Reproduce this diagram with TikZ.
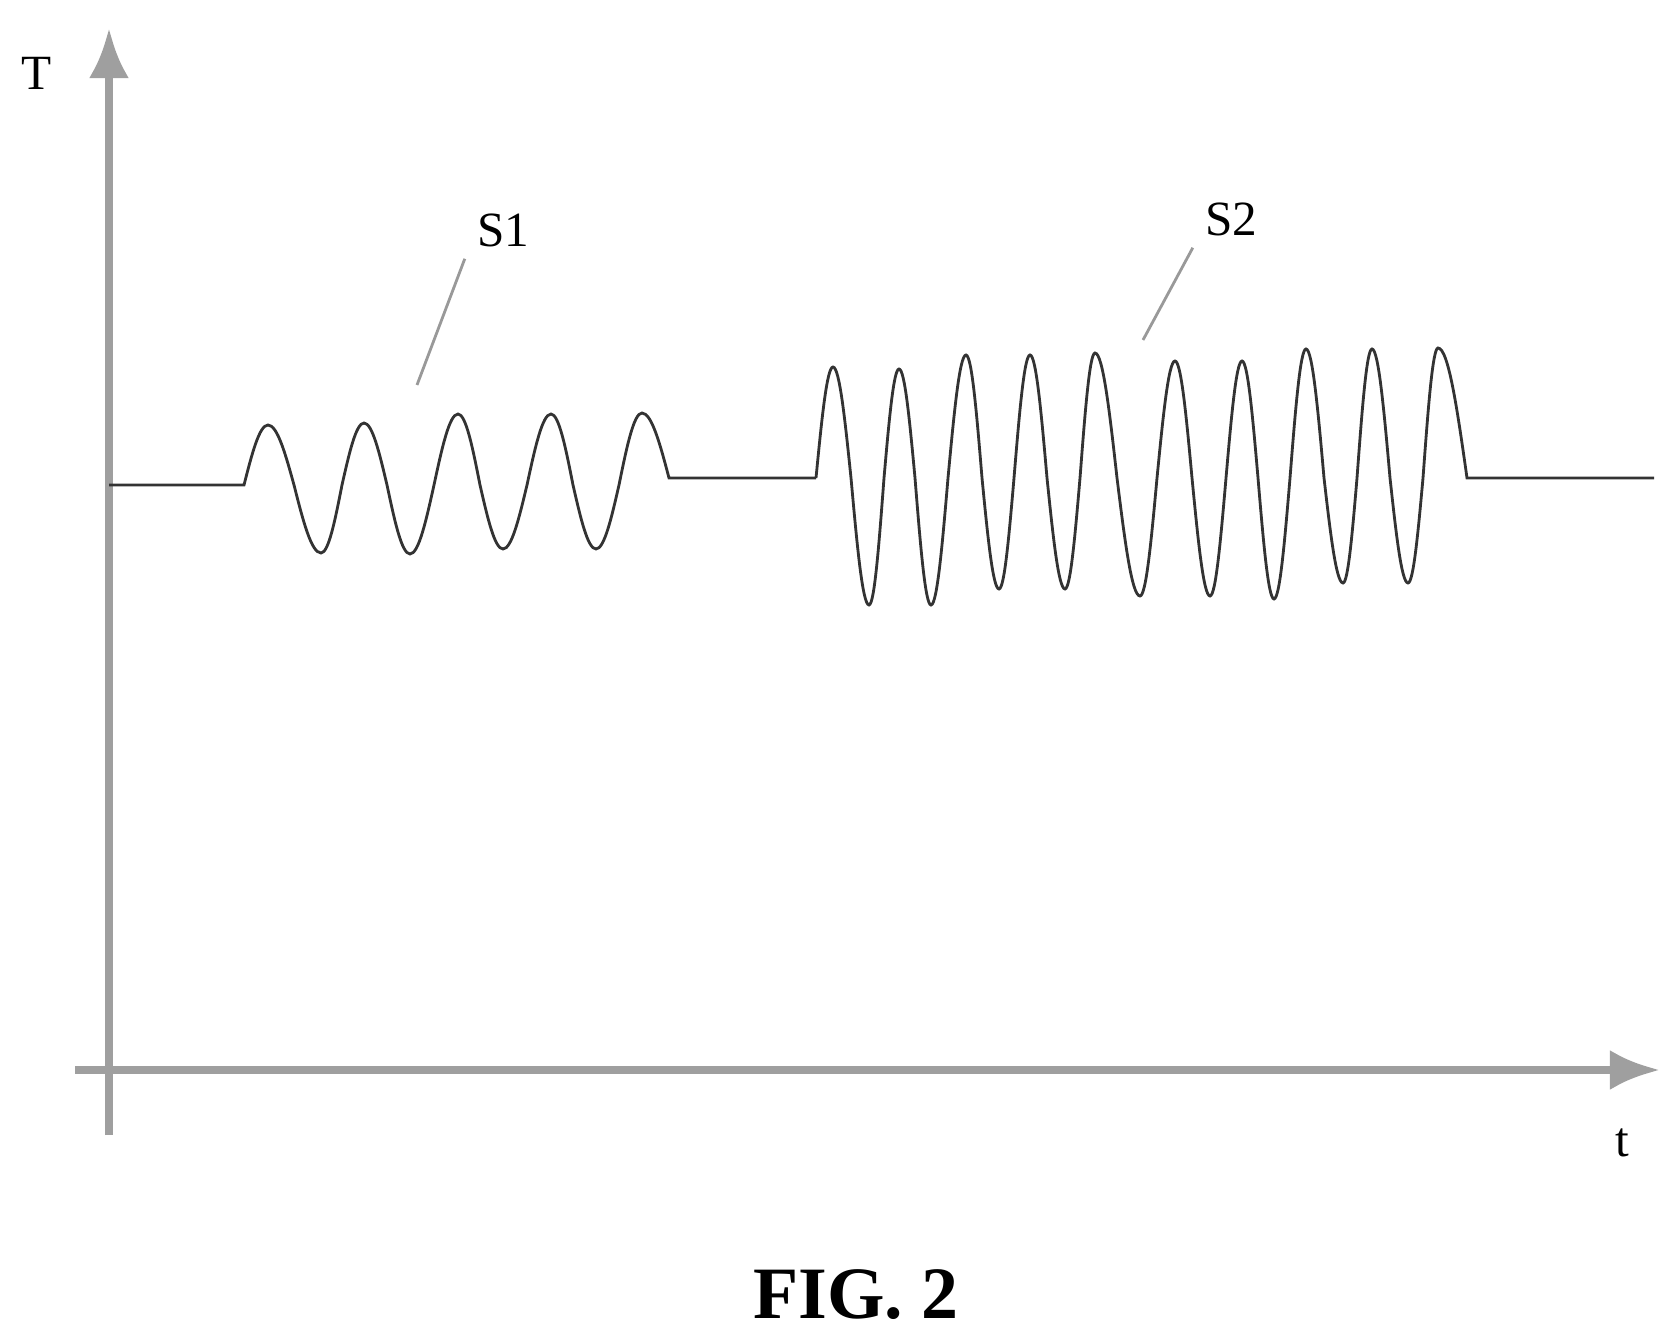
\documentclass[tikz,border=0pt]{standalone}
\usepackage{fontspec}
\setmainfont{Liberation Serif}
\usepackage{tikz}
\usetikzlibrary{arrows.meta}

\begin{document}
\begin{tikzpicture}[
    x=0.01cm, y=-0.01cm,
    axis/.style = {draw=gray!75, line width=2.4pt, -{Latex[length=5mm, width=4mm]}},
    wave/.style = {draw=black!80, line width=0.8pt},
    leader/.style = {draw=gray!80, line width=0.8pt},
    lbl/.style = {font=\fontsize{14}{16}\selectfont, inner sep=1pt}
  ]
  \useasboundingbox (0,0) rectangle (1670,1331);

  % axes
  \coordinate (ybot) at (109,1135);
  \coordinate (ytop) at (109,28);
  \coordinate (xleft) at (75,1070);
  \coordinate (xright) at (1660,1070);
  \draw[axis] (ybot) -- (ytop);
  \draw[axis] (xleft) -- (xright);
  \node[lbl] (Tlab) at (37,73) {T};
  \node[lbl] (tlab) at (1622,1143) {t};

  % signal S1
  \draw[wave] (109,485) -- (244,485) sin (268,425)
    cos (294,485) sin (321,553) cos (342,485) sin (364,423)
    cos (387,485) sin (410,554) cos (434,485) sin (458,414)
    cos (480,485) sin (503,549) cos (527,485) sin (551,414)
    cos (573,485) sin (596,549) cos (619,485) sin (642,413)
    cos (669,478) -- (816,478);

  % signal S2
  \draw[wave] (816,478) sin (833,367)
    cos (851,478) sin (869,605) cos (884,478) sin (899,369)
    cos (915,478) sin (931,605) cos (948,478) sin (966,355)
    cos (982,478) sin (999,589) cos (1014,478) sin (1030,355)
    cos (1047,478) sin (1065,589) cos (1080,478) sin (1095,353)
    cos (1117,478) sin (1140,596) cos (1157,478) sin (1175,361)
    cos (1192,478) sin (1210,596) cos (1226,478) sin (1242,361)
    cos (1258,478) sin (1274,599) cos (1290,478) sin (1306,349)
    cos (1324,478) sin (1343,583) cos (1357,478) sin (1372,349)
    cos (1390,478) sin (1408,583) cos (1423,478) sin (1438,348)
    cos (1467,478) -- (1654,478);

  % labels with leaders
  \node[lbl] (S1) at (503,230) {S1};
  \coordinate (S1tip) at (417,385);
  \draw[leader] (S1.south west) ++(-8,8) -- (S1tip);
  \node[lbl] (S2) at (1231,219) {S2};
  \coordinate (S2tip) at (1143,340);
  \draw[leader] (S2.south west) ++(-8,8) -- (S2tip);

  % caption
  \node[font=\fontsize{21}{24}\bfseries\selectfont] (fig) at (856,1295) {FIG. 2};
\end{tikzpicture}
\end{document}
